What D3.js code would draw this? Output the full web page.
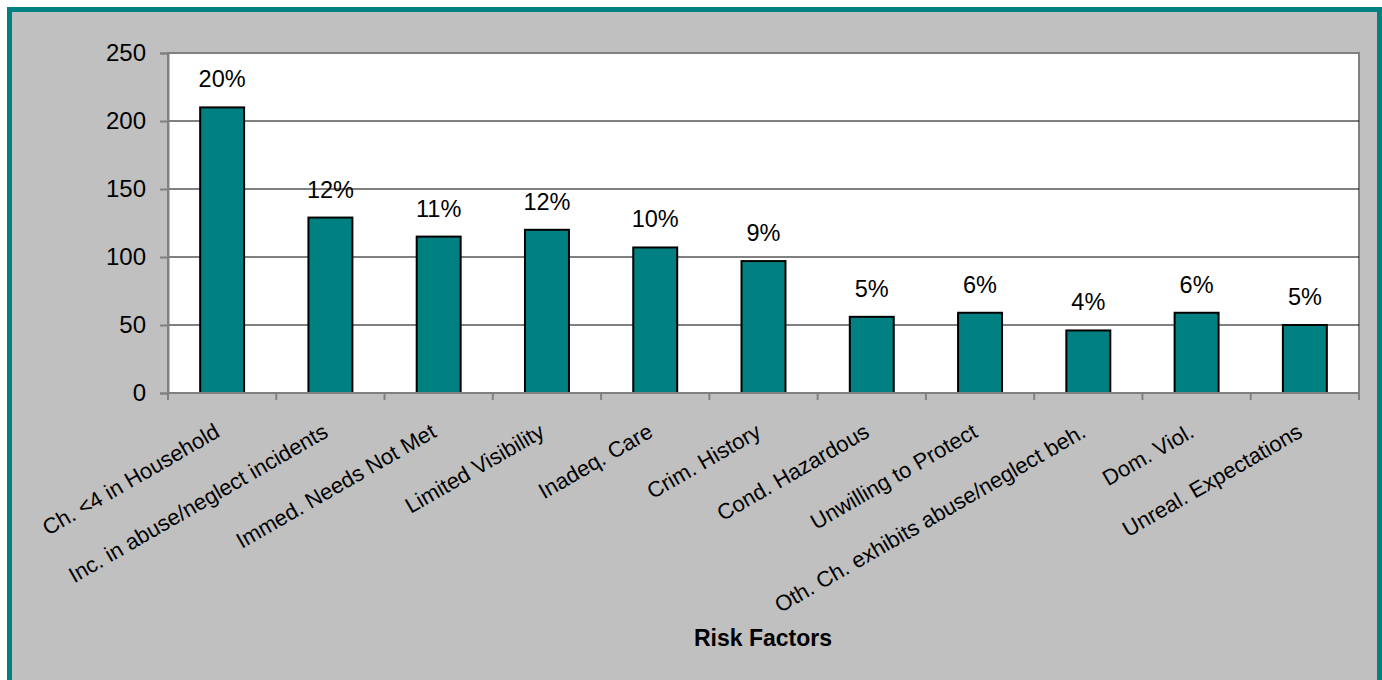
<!DOCTYPE html>
<html>
<head>
<meta charset="utf-8">
<script src="https://cdn.jsdelivr.net/npm/d3@7"></script>
<style>
  body { margin: 0; background: #fff; }
  text { font-family: "Liberation Sans", Arial, sans-serif; fill: #000; }
</style>
</head>
<body>
<div id="chart"></div>
<script>
// data
var categories = ["Ch. <4 in Household", "Inc. in abuse/neglect incidents", "Immed. Needs Not Met",
  "Limited Visibility", "Inadeq. Care", "Crim. History", "Cond. Hazardous", "Unwilling to Protect",
  "Oth. Ch. exhibits abuse/neglect beh.", "Dom. Viol.", "Unreal. Expectations"];
var counts = [210, 129, 115, 120, 107, 97, 56, 59, 46, 59, 50];
var percents = ["20%", "12%", "11%", "12%", "10%", "9%", "5%", "6%", "4%", "6%", "5%"];
var yTicks = [0, 50, 100, 150, 200, 250];
var xTitle = "Risk Factors";

var W = 1382, H = 680;
var plot = { left: 168, right: 1359, top: 53, bottom: 393 };

var svg = d3.select("#chart").append("svg")
  .attr("width", W).attr("height", H);

// outer frame
svg.append("rect")
  .attr("x", 9.5).attr("y", 9.5)
  .attr("width", 1370).attr("height", 720)
  .style("fill", "#C0C0C0")
  .style("stroke", "#008080")
  .style("stroke-width", 5);

var x = d3.scaleBand()
  .domain(categories)
  .range([plot.left, plot.right])
  .paddingInner(0.594)
  .paddingOuter(0.297);

var xCat = d3.scaleBand()
  .domain(categories)
  .range([plot.left, plot.right]);

var y = d3.scaleLinear()
  .domain([0, 250])
  .range([plot.bottom, plot.top]);

// plot area
svg.append("rect")
  .attr("x", plot.left).attr("y", plot.top)
  .attr("width", plot.right - plot.left).attr("height", plot.bottom - plot.top)
  .style("fill", "#fff")
  .style("stroke", "#808080")
  .style("stroke-width", 2);

// gridlines
svg.append("g").selectAll("line")
  .data(yTicks.filter(function(d) { return d > 0 && d < 250; }))
  .enter().append("line")
  .attr("x1", plot.left).attr("x2", plot.right)
  .attr("y1", function(d) { return y(d); })
  .attr("y2", function(d) { return y(d); })
  .style("stroke", "#000")
  .style("stroke-width", 1);

// bars
svg.append("g").selectAll("rect")
  .data(counts)
  .enter().append("rect")
  .attr("x", function(d, i) { return x(categories[i]); })
  .attr("y", function(d) { return y(d); })
  .attr("width", x.bandwidth())
  .attr("height", function(d) { return y(0) - y(d); })
  .style("fill", "#008080")
  .style("stroke", "#000")
  .style("stroke-width", 2);

// value labels
svg.append("g").selectAll("text")
  .data(counts)
  .enter().append("text")
  .attr("x", function(d, i) { return x(categories[i]) + x.bandwidth() / 2; })
  .attr("y", function(d) { return y(d) - 20; })
  .attr("text-anchor", "middle")
  .style("font-size", "23.5px")
  .text(function(d, i) { return percents[i]; });

// y axis
var yAxis = svg.append("g")
  .attr("transform", "translate(" + plot.left + ",0)")
  .call(d3.axisLeft(y).tickValues(yTicks).tickSize(8).tickPadding(14));
yAxis.select(".domain").style("stroke", "#808080").style("stroke-width", 2);
yAxis.selectAll(".tick line").style("stroke", "#808080").style("stroke-width", 2);
yAxis.selectAll(".tick text").style("font-size", "24px").attr("font-family", null);

// x axis
var xAxis = svg.append("g")
  .attr("transform", "translate(0," + plot.bottom + ")");
xAxis.append("line")
  .attr("x1", plot.left).attr("x2", plot.right)
  .style("stroke", "#808080").style("stroke-width", 2);
xAxis.selectAll(".xt")
  .data(categories.concat([null]))
  .enter().append("line")
  .attr("class", "xt")
  .attr("x1", function(d, i) { return plot.left + i * xCat.step(); })
  .attr("x2", function(d, i) { return plot.left + i * xCat.step(); })
  .attr("y1", 0).attr("y2", 7)
  .style("stroke", "#808080").style("stroke-width", 2);

// category labels
svg.append("g").selectAll("text")
  .data(categories)
  .enter().append("text")
  .attr("transform", function(d) {
    return "translate(" + (xCat(d) + xCat.bandwidth() / 2 - 1) + "," + (plot.bottom + 43) + ") rotate(-30)";
  })
  .attr("text-anchor", "end")
  .style("font-size", "22px")
  .text(function(d) { return d; });

// axis title
svg.append("text")
  .attr("x", 763).attr("y", 646)
  .attr("text-anchor", "middle")
  .style("font-size", "23px")
  .style("font-weight", "bold")
  .text(xTitle);
</script>
</body>
</html>
